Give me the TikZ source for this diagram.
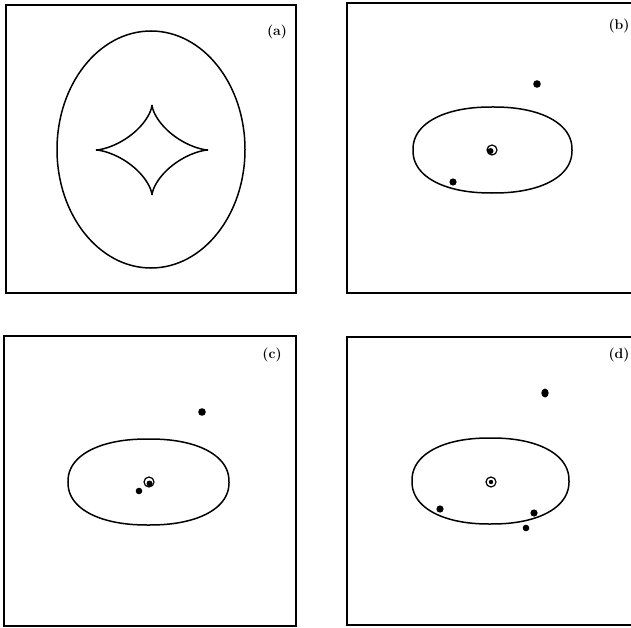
\documentclass[tikz,border=0pt]{standalone}
\usepackage{fontspec}
\begin{document}
\begin{tikzpicture}[x=1pt,y=-1pt,
  frame/.style={line width=1.2pt},
  curve/.style={line width=1.5pt},
  spot/.style={fill=black},
  ring/.style={line width=1.2pt},
  lab/.style={font=\fontsize{14}{16}\selectfont\bfseries, inner sep=0pt}]
\useasboundingbox (0,0) rectangle (631,628);
\clip (0,0) rectangle (631,628);
% panel frames
\draw[frame] (6,5) rectangle (296,293);
\draw[frame] (347,3) rectangle (640,293);
\draw[frame] (4,336) rectangle (296,626);
\draw[frame] (347,337) rectangle (640,625);
% labels
\node[lab] (la) at (277,32) {(a)};
\node[lab] (lb) at (619,26) {(b)};
\node[lab] (lc) at (272,355) {(c)};
\node[lab] (ld) at (619,355) {(d)};
% (a)
\draw[curve] (151,149.5) ellipse [x radius=94, y radius=118.5];
\draw[curve] plot[domain=0:360, samples=241, smooth] ({152+56*cos(\x)^3},{150+45*sin(\x)^3});
% ovals
\foreach \cx/\cy/\rx/\ry in {492.5/150/79.5/43, 148.5/482/80.5/43, 490.5/481/78.5/43}
  \draw[curve] plot[domain=0.5:360.5, samples=181, smooth cycle]
    ({\cx+\rx*sign(cos(\x))*abs(cos(\x))^(0.9)},{\cy+\ry*sign(sin(\x))*abs(sin(\x))^(0.9)});
% (b)
\draw[ring] (492,150) circle (5);
\fill[spot] (490.5,151) circle (3.0);
\fill[spot] (537,84) circle (3.8);
\fill[spot] (453,182) circle (3.6);
% (c)
\draw[ring] (149,482) circle (5);
\fill[spot] (149.5,483.5) circle (3.0);
\fill[spot] (139,491) circle (3.3);
\fill[spot] (202,412) circle (3.8);
% (d)
\draw[ring] (491,482) circle (5);
\fill[spot] (491,482) circle (2.2);
\fill[spot] (545,393) ellipse [x radius=3.7, y radius=4.5];
\fill[spot] (440,509) circle (3.6);
\fill[spot] (534,513) circle (3.6);
\fill[spot] (526,528) circle (3.3);
\end{tikzpicture}
\end{document}
